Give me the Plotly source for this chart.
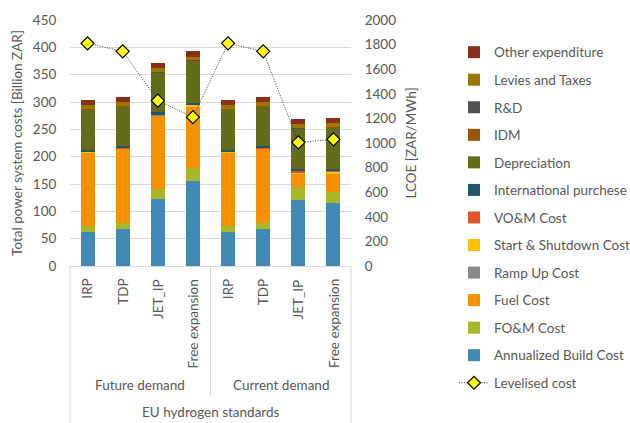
import plotly.graph_objects as go

# ---------------- data ----------------
groups = ["Future demand", "Current demand"]
scenarios = ["IRP", "TDP", "JET_IP", "Free expansion"]
categories = scenarios * len(groups)
outer_label = "EU hydrogen standards"

build = [62, 67.5, 123, 156, 62, 67.5, 121, 115]
fom = [11, 11.5, 17, 24, 11, 11.5, 23, 20]
fuel = [135, 135.5, 136, 111.5, 135, 135.5, 25.5, 34]
ramp = [0.5, 0.5, 0.5, 0.5, 0.5, 0.5, 0.5, 0.5]
start = [0.5, 0.5, 0.5, 3, 0.5, 0.5, 1.5, 2.5]
vom = [0.5, 0.5, 0.5, 0.5, 0.5, 0.5, 1.5, 1.5]
intl = [3, 3.5, 3.5, 3, 3, 3.5, 5, 4]
dep = [74, 72.5, 72.5, 76, 74, 72.5, 73, 76]
idm = [1, 1, 1, 1, 1, 1, 1, 1]
rd = [0.5, 0.5, 0.5, 0.5, 0.5, 0.5, 0.5, 0.5]
levies = [6.5, 6.5, 7, 7, 6.5, 6.5, 7, 7]
other = [10, 10, 10, 9.5, 10, 10, 10, 9.5]
lcoe = [1810, 1745, 1345, 1210, 1810, 1745, 1005, 1030]

series = [
    ("Annualized Build Cost", build, "#4189B5"),
    ("FO&M Cost", fom, "#A6B82A"),
    ("Fuel Cost", fuel, "#F59100"),
    ("Ramp Up Cost", ramp, "#898989"),
    ("Start & Shutdown Cost", start, "#FFC000"),
    ("VO&M Cost", vom, "#E05528"),
    ("International purchese", intl, "#24576D"),
    ("Depreciation", dep, "#636C1A"),
    ("IDM", idm, "#9A5400"),
    ("R&D", rd, "#505050"),
    ("Levies and Taxes", levies, "#9C7700"),
    ("Other expenditure", other, "#8B2F18"),
]

FONT = "Lato, 'Open Sans', sans-serif"
GREY = "#595959"
FS = 13.5
xs = list(range(len(categories)))

fig = go.Figure()

for k, (name, vals, col) in enumerate(series):
    fig.add_trace(go.Bar(
        x=xs, y=vals, name=name, marker=dict(color=col, line=dict(width=0)),
        width=0.4, legendgroup=name, legendrank=100 - k,
    ))

fig.add_trace(go.Scatter(
    x=xs, y=lcoe, name="Levelised cost", yaxis="y2", mode="lines+markers",
    line=dict(color="#3A3A3A", width=1, dash="1px,1.5px"),
    marker=dict(symbol="diamond", size=10, color="#FFFF00",
                line=dict(color="#000000", width=1.2)),
    legendgroup="lcoe", legendrank=200,
))

# category labels
annotations = []
for i, c in enumerate(categories):
    annotations.append(dict(
        x=i, xref="x", y=-0.045, yref="paper", text=c, showarrow=False,
        textangle=-90, xanchor="center", yanchor="top",
        font=dict(family=FONT, size=FS, color=GREY),
    ))
n = len(scenarios)
for g_i, g in enumerate(groups):
    annotations.append(dict(
        x=g_i * n + (n - 1) / 2, xref="x", y=-0.485, yref="paper", text=g,
        showarrow=False, xanchor="center", yanchor="middle",
        font=dict(family=FONT, size=FS, color=GREY),
    ))
annotations.append(dict(
    x=(len(categories) - 1) / 2, xref="x", y=-0.595, yref="paper", text=outer_label,
    showarrow=False, xanchor="center", yanchor="middle",
    font=dict(family=FONT, size=FS, color=GREY),
))

line_style = dict(color="#D9D9D9", width=1)
shapes = [
    dict(type="line", xref="paper", yref="paper", x0=0, x1=0, y0=0, y1=-0.64, line=line_style),
    dict(type="line", xref="paper", yref="paper", x0=1, x1=1, y0=0, y1=-0.64, line=line_style),
    dict(type="line", xref="paper", yref="paper", x0=0.5, x1=0.5, y0=0, y1=-0.525, line=line_style),
]

fig.update_layout(
    template="none",
    width=630, height=423,
    margin=dict(l=69.5, r=278.5, t=20, b=157, pad=0, autoexpand=False),
    paper_bgcolor="white", plot_bgcolor="white",
    barmode="stack",
    font=dict(family=FONT, size=FS, color=GREY),
    xaxis=dict(range=[-0.5, len(categories) - 0.5], showticklabels=False, ticks="",
               showgrid=False, zeroline=False, showline=True, linecolor="#D9D9D9",
               linewidth=1, automargin=False),
    yaxis=dict(range=[0, 450], dtick=50, showgrid=True, gridcolor="#D9D9D9",
               gridwidth=1, zeroline=False, showline=False,
               ticks="outside", ticklen=10, tickcolor="rgba(0,0,0,0)",
               automargin=False,
               title=dict(text="Total power system costs [Billion ZAR]", standoff=7,
                          font=dict(family=FONT, size=FS, color=GREY)),
               tickfont=dict(family=FONT, size=FS, color=GREY)),
    yaxis2=dict(range=[0, 2000], dtick=200, overlaying="y", side="right",
                showgrid=False, zeroline=False, showline=False,
                ticks="outside", ticklen=10, tickcolor="rgba(0,0,0,0)",
                automargin=False,
                title=dict(text="LCOE [ZAR/MWh]", standoff=11,
                           font=dict(family=FONT, size=FS, color=GREY)),
                tickfont=dict(family=FONT, size=FS, color=GREY)),
    legend=dict(xref="container", yref="container", x=0.7206, xanchor="left",
                y=0.9128, yanchor="top", maxheight=410,
                traceorder="grouped", tracegroupgap=7,
                font=dict(family=FONT, size=FS, color=GREY),
                itemwidth=30, bgcolor="rgba(0,0,0,0)", borderwidth=0),
    annotations=annotations,
    shapes=shapes,
)

fig.write_html("out.html", config={"displayModeBar": False},
               post_script="document.body.style.margin='0px';")
